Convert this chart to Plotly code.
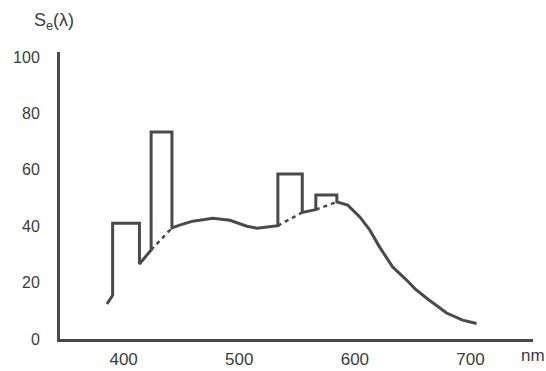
import plotly.graph_objects as go

# Solid spectral curve (wavelength nm, relative value)
solid_wl = [385.6, 389.5, 390.5, 390.5, 413.7, 413.7, 423.8, 423.8, 441.8, 441.8,
            448.5, 459.8, 477.2, 491.9, 506.6, 515.3, 529.1, 533.4, 533.4, 554.5,
            554.5, 566.2, 566.2, 584.4, 584.4, 593.8, 604.2, 612.8, 621.4, 632.7,
            644.7, 652.0, 663.5, 679.3, 693.1, 705.2]
solid_val = [12.4, 14.9, 15.5, 41.1, 41.1, 26.6, 31.6, 73.4, 73.4, 39.4,
             40.4, 41.8, 42.8, 42.1, 40.0, 39.3, 39.8, 40.2, 58.5, 58.5,
             44.9, 45.9, 51.1, 51.1, 48.6, 47.5, 43.3, 38.7, 32.6, 25.5,
             20.9, 17.8, 14.0, 9.2, 6.7, 5.5]

# Dashed continuum segments under the mercury lines
dash_segments = [
    ([423.8, 441.8], [31.6, 39.4]),
    ([533.4, 554.5], [40.2, 44.9]),
    ([566.2, 584.4], [45.9, 48.6]),
]

x_ticks = [400, 500, 600, 700]
y_ticks = [0, 20, 40, 60, 80, 100]

line_color = "#4a4a4a"
text_color = "#3c3c3c"
font_family = "Liberation Sans, Arial, sans-serif"

fig = go.Figure()
fig.add_trace(go.Scatter(x=solid_wl, y=solid_val, mode="lines",
                         line=dict(color=line_color, width=3), hoverinfo="skip"))
for wl, val in dash_segments:
    fig.add_trace(go.Scatter(x=wl, y=val, mode="lines",
                             line=dict(color=line_color, width=2.5, dash="4px,4px"),
                             hoverinfo="skip"))

W, H = 546, 371
# plot area in page pixels: x 60..533, y 52..339
L, R, T, B = 60, 546 - 533, 52, 371 - 339
pw, ph = W - L - R, H - T - B


def px_to_paper(px, py):
    return (px - L) / pw, (H - B - py) / ph


fig.update_layout(
    width=W, height=H,
    margin=dict(l=L, r=R, t=T, b=B, pad=0, autoexpand=False),
    paper_bgcolor="white", plot_bgcolor="white",
    showlegend=False,
    font=dict(family=font_family, size=16, color=text_color),
    xaxis=dict(range=[345, 754], tickvals=x_ticks, showgrid=False, zeroline=False,
               showline=True, linecolor=line_color, linewidth=3, ticks="",
               automargin=False, ticklabelstandoff=3,
               tickfont=dict(size=17, color=text_color)),
    yaxis=dict(range=[0, 101.8], tickvals=y_ticks, showgrid=False, zeroline=False,
               showline=True, linecolor=line_color, linewidth=3, ticks="",
               automargin=False, ticklabelstandoff=14,
               tickfont=dict(size=16, color=text_color)),
)

tx, ty = px_to_paper(32, 21)
fig.add_annotation(text="S<sub>e</sub>(λ)", xref="paper", yref="paper",
                   x=tx, y=ty, xanchor="left", yanchor="middle",
                   showarrow=False, font=dict(size=18, color=text_color, family=font_family))
nx, ny = px_to_paper(519, 355)
fig.add_annotation(text="nm", xref="paper", yref="paper",
                   x=nx, y=ny, xanchor="left", yanchor="middle",
                   showarrow=False, font=dict(size=17, color=text_color, family=font_family))

fig.write_html(
    "out.html",
    config={"displayModeBar": False},
    post_script="document.body.style.margin='0';document.body.style.overflow='hidden';",
)
